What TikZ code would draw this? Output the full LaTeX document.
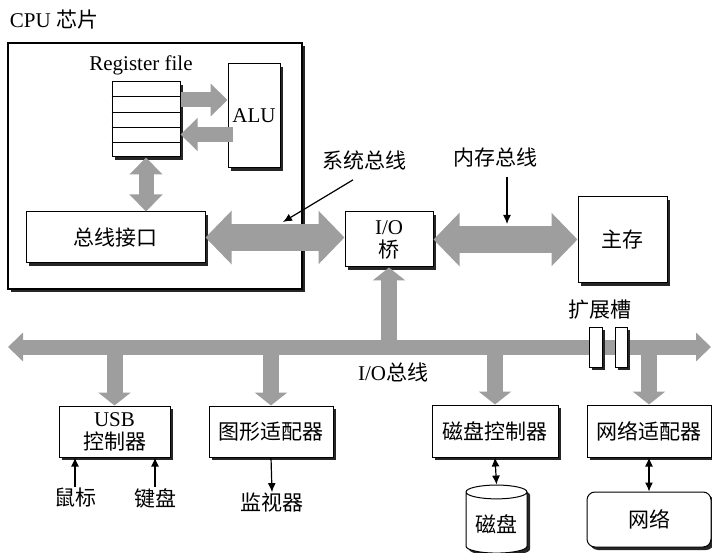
\documentclass[tikz,border=0pt]{standalone}
\usepackage{fontspec}
\setmainfont{Liberation Serif}
\newfontfamily\cjk{Noto Sans CJK SC}
\usetikzlibrary{shapes, shapes.geometric, arrows.meta, shadows, calc}

\begin{document}
\begin{tikzpicture}[x=1pt, y=-1pt, font=\fontsize{21pt}{23pt}\selectfont,
			unit/.style={draw, fill=white, line width=1pt, inner sep=2pt, align=center,
				drop shadow={shadow xshift=3pt, shadow yshift=-3pt, opacity=1, fill=black!85}},
			txt/.style={inner sep=1pt, align=center},
			sysbus/.style={line width=27pt, draw=black!38, >={Triangle[length=26pt, width=52pt]}, <->},
			regbus/.style={line width=15pt, draw=black!38, >={Triangle[length=17pt, width=32pt]}},
			iobus/.style={line width=15pt, draw=black!38, >={Triangle[length=15pt, width=28pt]}, <->},
			drop/.style={line width=16pt, draw=black!38, >={Triangle[length=13pt, width=32pt]}, ->},
			small/.style={line width=1.2pt, >={Latex[length=9pt, width=8pt]}}
			]
			\useasboundingbox (0,0) rectangle (712,553);
			
			% CPU chip
			\node [txt](cpulbl) at (54,20) {CPU {\cjk 芯片}};
			\node [unit, line width=1.6pt, minimum width=294pt, minimum height=246pt](cpu) at (155,166) {};
			\node [txt](reglbl) at (141,65) {Register file};
			\node [unit, minimum width=68pt, minimum height=75pt](regfile) at (146,119.5) {};
			\foreach \i in {1,...,4}
				\draw ($(regfile.north west)!\i/5!(regfile.south west)$) -- ($(regfile.north east)!\i/5!(regfile.south east)$);
			\node [unit, minimum width=52pt, minimum height=104pt](alu) at (254,116) {ALU};
			\node [unit, minimum width=179pt, minimum height=51pt](busif) at (115.5,237.5) {\cjk 总线接口};
			
			% bridge and memory
			\node [unit, minimum width=88pt, minimum height=55pt](bridge) at (389,239.5) {I/O\\{\cjk 桥}};
			\node [unit, minimum width=89pt, minimum height=86pt](mem) at (622.5,240) {\cjk 主存};
			\node [txt](syslbl) at (364,160) {\cjk 系统总线};
			\node [txt](memlbl) at (495,158) {\cjk 内存总线};
			\coordinate (sysend) at (283,222);
			\coordinate (memend) at (507,224);
			
			% I/O devices
			\node [unit, minimum width=111pt, minimum height=51pt, inner sep=1pt](usb) at (114.5,431.5) {USB\\{\cjk 控制器}};
			\node [unit, minimum width=124pt, minimum height=51pt](gfx) at (271,431.5) {\cjk 图形适配器};
			\node [unit, minimum width=126pt, minimum height=52pt](diskc) at (495,431) {\cjk 磁盘控制器};
			\node [unit, minimum width=124pt, minimum height=52pt](netad) at (649,431) {\cjk 网络适配器};
			
			\node [txt](mouse) at (75,498) {\cjk 鼠标};
			\node [txt](kbd) at (155,498) {\cjk 键盘};
			\node [txt](monitor) at (272,503) {\cjk 监视器};
			\node [unit, cylinder, shape border rotate=90, aspect=0.3, minimum width=61pt, minimum height=68pt](disk) at (496.5,524) {\cjk 磁盘};
			\node [unit, rounded corners=8pt, minimum width=124pt, minimum height=55pt](net) at (649,519.5) {\cjk 网络};
			
			% buses
			\draw[sysbus] (busif.east) -- (busif.east -| bridge.west);
			\draw[sysbus] (bridge.east) -- (bridge.east -| mem.west);
			\draw[regbus, ->] ([yshift=19.5pt]regfile.east) -- ([yshift=19.5pt]regfile.east -| alu.west);
			\draw[regbus, ->] ([yshift=-18.5pt]alu.west -| regfile.east) ++(52,0) -- ([yshift=-18.5pt]alu.west -| regfile.east);
			\draw[regbus, <->] (regfile.south) -- (regfile.south |- busif.north);
			
			\coordinate (iol) at (8,347);
			\coordinate (ior) at (711,347);
			\draw[iobus] (iol) -- (ior);
			\draw[drop] (bridge.south |- iol) -- (bridge.south);
			\draw[drop] (usb.north |- iol) -- (usb.north);
			\draw[drop] (gfx.north |- iol) -- (gfx.north);
			\draw[drop] (diskc.north |- iol) -- (diskc.north);
			\draw[drop] (netad.north |- iol) -- (netad.north);
			\node [txt](iolbl) at (393,372) {I/O{\cjk 总线}};
			
			% expansion slots
			\node [unit, line width=0.8pt, minimum width=13pt, minimum height=40pt, inner sep=0pt](slota) at (595.5,347) {};
			\node [unit, line width=0.8pt, minimum width=12pt, minimum height=40pt, inner sep=0pt](slotb) at (621,347) {};
			\node [txt](slotlbl) at (600,310) {\cjk 扩展槽};
			
			% pointers and small links
			\draw[small, ->] ([xshift=-11pt, yshift=-9pt]syslbl.south) -- (sysend);
			\draw[small, ->] ([xshift=12pt, yshift=-8pt]memlbl.south) -- (memend);
			\draw[small, ->] (mouse.north) -- (mouse.north |- usb.south);
			\draw[small, ->] (kbd.north) -- (kbd.north |- usb.south);
			\draw[small, ->] (gfx.south) -- (monitor.north);
			\draw[small, <->] (diskc.south) -- (disk.north);
			\draw[small, <->] (netad.south) -- (net.north);
		\end{tikzpicture}
\end{document}
